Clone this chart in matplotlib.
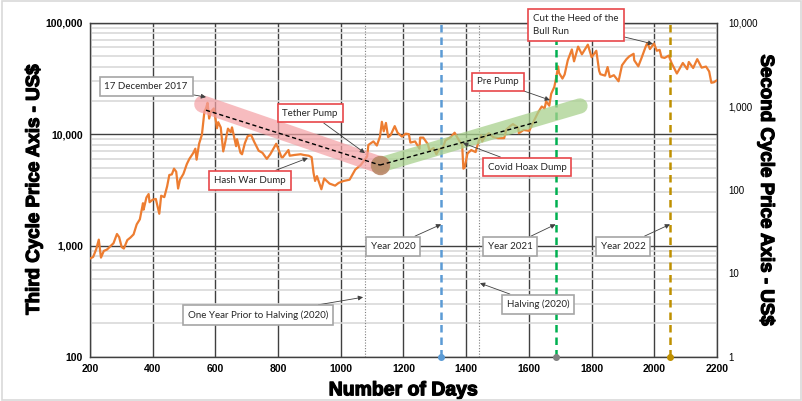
import numpy as np
import matplotlib
matplotlib.use("Agg")
import matplotlib.pyplot as plt
import matplotlib.patheffects as pe
from matplotlib.ticker import FixedLocator, NullFormatter, LogLocator
from matplotlib.patches import Rectangle

# Price data (third cycle): day number -> US$
days = [200, 210, 220, 228, 235, 244, 254, 264, 275, 286, 293, 301, 308, 319, 329, 339,
        349, 359, 369, 371, 380, 387, 390, 400, 410, 421, 427, 437, 446, 453, 461, 468,
        475, 481, 487, 498, 509, 517, 529, 536, 540, 548, 557, 565, 570, 575, 580, 585,
        595, 605, 609, 617, 625, 630, 640, 649, 653, 666, 669, 680, 685, 694, 703, 714,
        724, 738, 750, 764, 775, 794, 811, 815, 833, 837, 852, 872, 882, 898, 907, 913,
        918, 924, 938, 947, 955, 964, 982, 993, 1009, 1028, 1046, 1064, 1084, 1088, 1104, 1115,
        1125, 1131, 1137, 1144, 1151, 1159, 1172, 1181, 1195, 1207, 1217, 1222, 1237, 1251, 1253, 1263,
        1278, 1283, 1296, 1305, 1313, 1324, 1334, 1351, 1363, 1378, 1387, 1391, 1395, 1404, 1416, 1430,
        1440, 1448, 1451, 1460, 1472, 1486, 1502, 1521, 1528, 1542, 1549, 1566, 1568, 1583, 1601, 1614,
        1629, 1641, 1650, 1655, 1665, 1671, 1681, 1687, 1693, 1696, 1707, 1714, 1724, 1737, 1744, 1757,
        1769, 1788, 1800, 1815, 1824, 1828, 1843, 1851, 1858, 1871, 1886, 1897, 1911, 1920, 1934, 1936,
        1949, 1959, 1973, 1978, 1986, 1999, 2008, 2017, 2023, 2033, 2046, 2055, 2072, 2091, 2105, 2110,
        2124, 2137, 2151, 2165, 2175, 2180, 2182, 2190, 2200]
prices = [765, 790, 930, 1130, 780, 895, 920, 980, 1050, 1270, 1190, 970, 940, 1120, 1180, 1260,
          1550, 1720, 2400, 2100, 2700, 2900, 2450, 2580, 2620, 1930, 2800, 2720, 3400, 4300, 4350, 4900,
          4600, 3250, 3900, 4400, 5400, 6000, 6750, 7400, 5900, 8200, 9900, 16000, 17000, 19100, 13800, 15800,
          17000, 11300, 12800, 11500, 7000, 8100, 11200, 10400, 11500, 7800, 9000, 6800, 6600, 8300, 9600, 9800,
          8500, 7100, 6800, 6000, 6600, 8200, 6200, 6200, 7200, 6400, 6500, 6600, 6500, 6400, 6200, 4500,
          3800, 4200, 3200, 4000, 3800, 3600, 3450, 3650, 3800, 3900, 4800, 5300, 6300, 8000, 8600, 7900,
          9500, 12900, 10600, 12600, 9400, 9800, 11800, 10300, 9500, 10100, 10000, 8400, 8600, 7400, 9300, 9300,
          8100, 7100, 7500, 6600, 7300, 7400, 8800, 9400, 10300, 8700, 8100, 4900, 5000, 6700, 7200, 6900,
          8700, 9800, 8600, 9500, 10200, 9400, 9200, 9200, 11000, 11900, 12300, 11400, 10200, 10900, 10700, 12800,
          15600, 17700, 17000, 19700, 18000, 23000, 26500, 32000, 40500, 35500, 31500, 34300, 46000, 57500, 45000, 61000,
          52000, 63500, 49000, 56000, 37000, 34500, 33500, 40000, 32500, 33800, 29800, 41500, 47000, 49800, 52600, 46000,
          40600, 48000, 61500, 66000, 58000, 65000, 56000, 57000, 49000, 48300, 50700, 43500, 35000, 43500, 38300, 44400,
          39200, 47100, 39500, 40400, 36500, 31000, 28900, 29200, 30500]

# Trend bands and dashed trend lines
bear_x = [560, 1125]
bear_y = [18600, 5280]
bear_dash_x = [570, 1125]
bear_dash_y = [16400, 5280]
bull_x = [1125, 1763]
bull_y = [5280, 17900]
bull_dash_x = [1125, 1626]
bull_dash_y = [5280, 12860]

# Vertical markers
year_days = [1320, 1685, 2050]
year_colors = ['#5b9bd5', '#00b050', '#bf9000']
year_dot_colors = ['#5b9bd5', '#808080', '#bf9000']
halving_day = 1441
prior_day = 1076

LBL = 'Liberation Sans'
ANN = 'Lato'
RED = '#e8474a'
GRAY = '#a6a6a6'
heavy = [pe.withStroke(linewidth=0.9, foreground='black')]

fig = plt.figure(figsize=(8.03, 4.01), dpi=100)
ax = fig.add_axes([90/803, 1 - 357/401, (717-90)/803, (357-22.7)/401])

ax.plot(days, prices, color='#ed7d31', lw=1.6, zorder=3)

ax.set_xlim(200, 2200)
ax.set_yscale('log')
ax.set_ylim(100, 100000)

# grid
ax.xaxis.set_major_locator(FixedLocator(range(200, 2201, 200)))
ax.yaxis.set_major_locator(FixedLocator([100, 1000, 10000, 100000]))
ax.yaxis.set_minor_locator(LogLocator(base=10, subs=range(2, 10)))
ax.yaxis.set_minor_formatter(NullFormatter())
ax.grid(True, which='minor', axis='y', color='#d9d9d9', lw=1.2, zorder=0)
ax.grid(True, which='major', axis='both', color='#404040', lw=1.0, zorder=1)
ax.set_yticklabels(['100', '1,000', '10,000', '100,000'])
ax.tick_params(which='both', length=0, pad=5)
for lab in ax.get_xticklabels() + ax.get_yticklabels():
    lab.set_fontfamily(LBL)
    lab.set_fontweight('bold')
    lab.set_fontsize(7.5)
for s in ax.spines.values():
    s.set_color('#404040')
    s.set_linewidth(1.0)

ax.set_xlabel('Number of Days', fontfamily=LBL, fontweight='bold', fontsize=14, labelpad=6,
              path_effects=heavy)
ax.set_ylabel('Third Cycle Price Axis - US$', fontfamily=LBL, fontweight='bold', fontsize=13.5,
              labelpad=2, path_effects=heavy)

# right axis
ax2 = ax.twinx()
ax2.set_yscale('log')
ax2.set_ylim(1, 10000)
ax2.yaxis.set_major_locator(FixedLocator([1, 10, 100, 1000, 10000]))
ax2.yaxis.set_minor_locator(FixedLocator([]))
ax2.set_yticklabels(['1', '10', '100', '1,000', '10,000'])
ax2.tick_params(length=0, pad=8)
for lab in ax2.get_yticklabels():
    lab.set_fontfamily(LBL)
    lab.set_fontsize(7)
ax2.set_ylabel('Second Cycle Price Axis - US$', fontfamily=LBL, fontweight='bold', fontsize=13.5,
               rotation=-90, labelpad=12, path_effects=heavy)
for s in ax2.spines.values():
    s.set_visible(False)

# vertical lines
ax.axvline(prior_day, color='#7f7f7f', ls=(0, (1, 1.5)), lw=0.8, zorder=2)
ax.axvline(halving_day, color='#7f7f7f', ls=(0, (1, 1.5)), lw=0.8, zorder=2)
for d, c, dc in zip(year_days, year_colors, year_dot_colors):
    ax.axvline(d, color=c, ls=(0, (3, 2)), lw=1.8, zorder=4)
    ax.plot([d], [100], 'o', color=dc, ms=4, zorder=6, clip_on=False)

# trend bands
ax.plot(bear_x, bear_y, color='#f4a0a4', lw=12.5, alpha=0.7, solid_capstyle='round', zorder=5)
ax.plot(bull_x, bull_y, color='#a9d18e', lw=11, alpha=0.75, solid_capstyle='round', zorder=5)
ax.plot([bull_x[0]], [bull_y[0]], 'o', color='#b98868', ms=14, alpha=0.9, zorder=5, mec='none')
ax.plot(bear_dash_x, bear_dash_y, color='black', ls=(0, (3, 2)), lw=1.0, zorder=6)
ax.plot(bull_dash_x, bull_dash_y, color='black', ls=(0, (3, 2)), lw=1.0, zorder=6)

arrow = dict(arrowstyle='-|>', color='#404040', lw=0.6, mutation_scale=7, shrinkA=0, shrinkB=0)


def callout(text, xy, xytext, edge, ha='center', ls=1.2):
    ax.annotate(text, xy=xy, xytext=xytext, fontfamily=ANN, fontsize=7, ha=ha, va='center',
                color='#262626', zorder=8, linespacing=ls,
                bbox=dict(boxstyle='square,pad=0.5', fc='white', ec=edge, lw=1.2),
                arrowprops=arrow)


callout('17 December 2017', (570, 21500), (379, 26700), GRAY)
callout('Tether Pump', (1077, 6760), (902, 15450), RED)
callout('Hash War Dump', (895, 6110), (710, 3860), RED)
callout('Pre Pump', (1667, 20200), (1501, 29400), RED)
callout('Covid Hoax Dump', (1390, 8320), (1594, 5070), RED)
callout('Cut the Heed of the\nBull Run', (1996, 64400), (1614, 95000), RED, ha='left', ls=1.6)
callout('Year 2020', (1320, 1550), (1166, 988), GRAY)
callout('Year 2021', (1685, 1550), (1540, 988), GRAY)
callout('Year 2022', (2050, 1550), (1900, 988), GRAY)
callout('Halving (2020)', (1444, 460), (1629, 297), GRAY)
callout('One Year Prior to Halving (2020)', (1071, 344), (736, 238), GRAY)

# outer frame
fig.patches.append(Rectangle((0.002, 0.003), 0.996, 0.994, transform=fig.transFigure,
                             fill=False, ec='#d9d9d9', lw=1.2))

fig.savefig('out.png', dpi=100)
